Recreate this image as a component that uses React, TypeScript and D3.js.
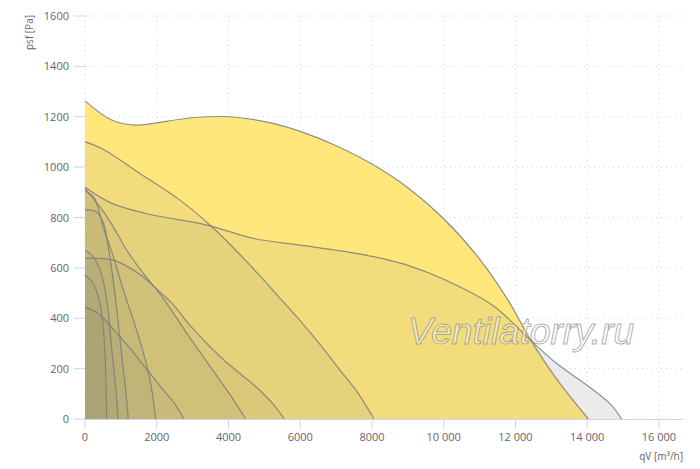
import React from 'react';
import * as d3 from 'd3';

type Pt = [number, number];

// fan curves: [qV m3/h, psf Pa]
const curveMain: Pt[] = [
  [0, 1263], [743, 1187], [1394, 1167], [2927, 1195], [4042, 1200], [5240, 1174],
  [6000, 1142], [7000, 1085], [8000, 1012], [9000, 918], [10000, 795], [11000, 635],
  [11800, 470], [12404, 318], [13150, 158], [14030, 0],
];
const curveGrey: Pt[] = [
  [0, 920], [750, 856], [1700, 816], [3400, 770], [4700, 717], [6000, 690],
  [7000, 670], [8200, 640], [9000, 610], [10000, 555], [11380, 450], [12400, 315],
  [13150, 220], [14080, 125], [14640, 60], [14960, 0],
];
const curve8000: Pt[] = [
  [0, 1100], [465, 1074], [1533, 975], [2648, 869], [3484, 770], [4135, 680],
  [4800, 580], [5435, 480], [6000, 390], [6500, 305], [7100, 195], [7600, 105], [8056, 0],
];
const curve5500: Pt[] = [
  [0, 638], [315, 638], [780, 631], [1151, 608], [1617, 565], [2082, 505],
  [2453, 455], [2927, 372], [3855, 236], [4785, 125], [5250, 58], [5555, 0],
];
const curve4500: Pt[] = [
  [0, 915], [418, 842], [790, 763], [1160, 671], [1626, 578], [2184, 478],
  [2927, 322], [3670, 172], [4100, 85], [4480, 0],
];
const curve2760: Pt[] = [
  [0, 445], [400, 415], [800, 355], [1200, 290], [1650, 210], [2100, 130],
  [2500, 60], [2760, 0],
];
const curve1970: Pt[] = [
  [0, 905], [250, 880], [511, 760], [800, 640], [1068, 512], [1400, 370],
  [1700, 225], [1850, 125], [1971, 0],
];
const curve1200: Pt[] = [
  [0, 830], [315, 823], [502, 783], [641, 690], [780, 558], [873, 452],
  [966, 330], [1050, 220], [1150, 90], [1207, 0],
];
const curve930: Pt[] = [
  [0, 670], [200, 650], [400, 600], [550, 520], [650, 420], [730, 300],
  [800, 200], [870, 100], [928, 0],
];
const curve605: Pt[] = [
  [0, 572], [220, 540], [400, 470], [500, 380], [560, 250], [590, 120], [605, 0],
];

const overlayCurves: Pt[][] = [curveGrey, curve8000, curve5500, curve4500, curve2760, curve1970, curve1200, curve930, curve605];

const xTicks = [0, 2000, 4000, 6000, 8000, 10000, 12000, 14000, 16000];
const yTicks = [0, 200, 400, 600, 800, 1000, 1200, 1400, 1600];

const fmtX = (v: number) => (v >= 10000 ? d3.format(',')(v).replace(',', ' ') : String(v));

export default function App() {
  const width = 700;
  const height = 469;
  const x = d3.scaleLinear().domain([0, 16669]).range([85, 683]);
  const y = d3.scaleLinear().domain([0, 1600]).range([419, 16]);

  const area = d3.area<Pt>()
    .x(d => x(d[0]))
    .y0(y(0))
    .y1(d => y(d[1]))
    .curve(d3.curveCatmullRom.alpha(0.5));
  const line = d3.line<Pt>()
    .x(d => x(d[0]))
    .y(d => y(d[1]))
    .curve(d3.curveCatmullRom.alpha(0.5));

  const font = '"Open Sans", "DejaVu Sans", sans-serif';
  const strokeCol = 'rgba(125,125,125,0.85)';

  return (
    <svg width={width} height={height} style={{ position: 'absolute', left: 0, top: 0, background: '#fff' }}>
      {/* grid */}
      {yTicks.map(t => (
        <line key={'gy' + t} x1={x(0)} x2={683} y1={y(t)} y2={y(t)}
          stroke="#d8d8d8" strokeWidth={1} strokeDasharray="1.2,3.6" />
      ))}
      {xTicks.map(t => (
        <line key={'gx' + t} x1={x(t)} x2={x(t)} y1={y(1600)} y2={y(0)}
          stroke="#d8d8d8" strokeWidth={1} strokeDasharray="1.2,3.6" />
      ))}

      {/* grey base of the widest curve */}
      <path d={area(curveGrey) || ''} fill="#f8f8f8" />
      {/* main curve */}
      <path d={area(curveMain) || ''} fill="#ffe77c" />
      <path d={line(curveMain) || ''} fill="none" stroke={strokeCol} strokeWidth={1.2} />
      {overlayCurves.map((c, i) => (
        <g key={'c' + i}>
          <path d={area(c) || ''} fill="rgb(131,125,116)" fillOpacity={0.1} />
          <path d={line(c) || ''} fill="none" stroke={strokeCol} strokeWidth={1.2} />
        </g>
      ))}

      {/* x axis */}
      <line x1={x(0)} x2={683} y1={y(0) + 0.5} y2={y(0) + 0.5} stroke="#ccd6eb" strokeWidth={1} />
      {xTicks.map(t => (
        <g key={'tx' + t}>
          <line x1={x(t)} x2={x(t)} y1={y(0)} y2={y(0) + 10} stroke="#ccd6eb" strokeWidth={1} />
          <text x={x(t)} y={y(0) + 22} textAnchor="middle" fontSize={11} fill="#666" fontFamily={font}>
            {fmtX(t)}
          </text>
        </g>
      ))}
      {/* y axis ticks */}
      {yTicks.map(t => (
        <g key={'ty' + t}>
          <line x1={74} x2={x(0)} y1={y(t)} y2={y(t)} stroke="#ccd6eb" strokeWidth={1} />
          <text x={69} y={y(t) + 4} textAnchor="end" fontSize={11} fill="#666" fontFamily={font}>
            {t}
          </text>
        </g>
      ))}

      <text transform="translate(33,50) rotate(-90)" fontSize={10} fill="#666" fontFamily={font}>
        psf [Pa]
      </text>
      <text x={683} y={460} textAnchor="end" fontSize={10} fill="#666" fontFamily={font}>
        qV [m³/h]
      </text>

      {/* watermark */}
      <text x={408} y={344} fontSize={36} fontStyle="italic" fontFamily='"Liberation Sans", Arial, sans-serif'
        fill="rgba(255,255,255,0.45)" stroke="rgba(140,140,140,0.7)" strokeWidth={1}
        textLength={226} lengthAdjust="spacingAndGlyphs">
        Ventilatorry.ru
      </text>
    </svg>
  );
}
